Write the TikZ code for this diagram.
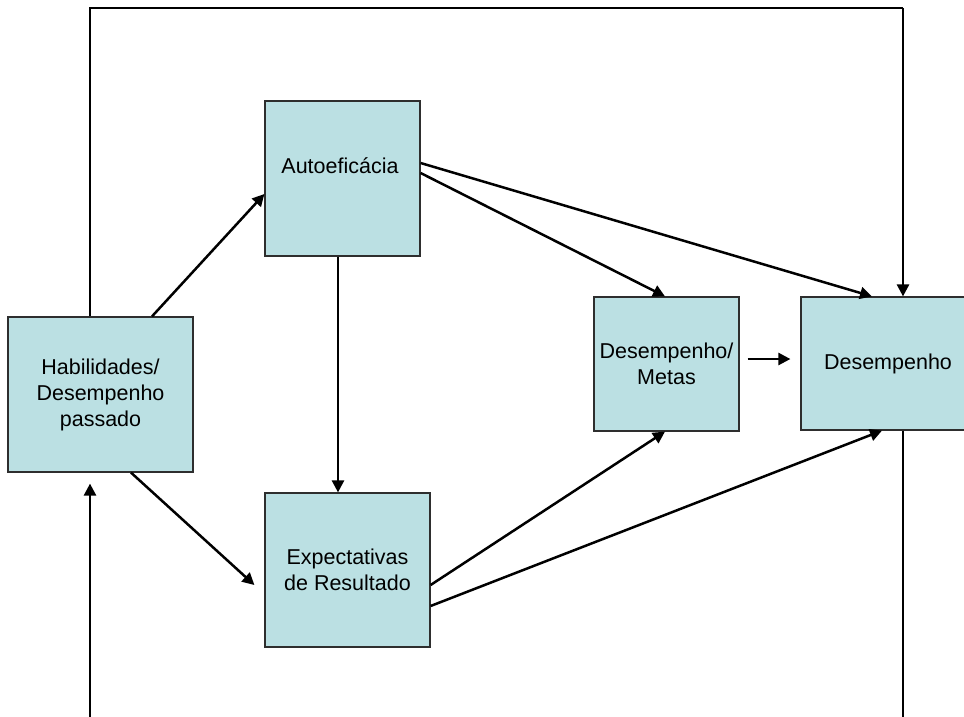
\documentclass[tikz,border=0pt]{standalone}
\usepackage{fontspec}
\setmainfont{Liberation Sans}
\usetikzlibrary{arrows.meta}
\definecolor{boxfill}{HTML}{BBE0E3}
\definecolor{boxline}{HTML}{2E2E2E}
\tikzset{
  box/.style={draw=boxline, line width=1.2pt, fill=boxfill, inner sep=0pt, align=center,
    font=\fontsize{21.5}{26}\selectfont},
  lbl/.style={inner sep=0pt, align=center, font=\fontsize{21.5}{26}\selectfont},
  arr/.style={line width=2.5pt, -{Triangle[length=12pt,width=12pt]}},
  thin/.style={line width=1.1pt},
}
\begin{document}
\begin{tikzpicture}[x=1pt,y=-1pt]
\useasboundingbox (0,0) rectangle (964,717);
\clip (0,0) rectangle (964,717);
\fill[white] (0,0) rectangle (964,717);
% boxes
\node[box, minimum width=185pt, minimum height=155pt] (hab) at (100.5,394.5) {Habilidades/\\Desempenho\\passado};
\node[box, minimum width=155pt, minimum height=155pt] (auto) at (342.5,178.5) {};
\node[lbl] (autotext) at (340,166) {Autoeficácia};
\node[box, minimum width=165pt, minimum height=154pt] (expect) at (347.5,570) {Expectativas\\de Resultado};
\node[box, minimum width=145pt, minimum height=134pt] (metas) at (666.5,364) {Desempenho/\\Metas};
\node[box, minimum width=174pt, minimum height=133pt] (desemp) at (888,363.5) {Desempenho};
% corner coordinates of the feedback loops
\coordinate (tl) at (90,8);
\coordinate (tr) at (903,8);
\coordinate (bl) at (90,717);
\coordinate (br) at (903,717);
% connectors
\draw[arr] ([xshift=51.5pt]hab.north) -- ([yshift=-15.5pt]auto.west);
\draw[arr] ([xshift=30.5pt]hab.south) -- ([xshift=-10pt,yshift=-15pt]expect.west);
\draw[arr] ([xshift=-4.5pt]auto.south) -- ([xshift=-9.5pt]expect.north);
\draw[arr] ([yshift=15.5pt]auto.east) -- ([xshift=-16pt]desemp.north);
\draw[arr] ([yshift=5.5pt]auto.east) -- ([xshift=-1.5pt]metas.north);
\draw[arr] ([yshift=-15pt]expect.east) -- ([xshift=-1.5pt]metas.south);
\draw[arr] ([yshift=-36pt]expect.east) -- ([xshift=-6pt]desemp.south);
\draw[arr] ([xshift=8pt,yshift=5pt]metas.east) -- ([xshift=-10pt,yshift=4.5pt]desemp.west);
% feedback loop over the top
\draw[thin] ([xshift=-10.5pt]hab.north) -- (tl) -- (tr);
\draw[arr] (tr) -- ([xshift=15pt]desemp.north);
% feedback loop at the bottom
\draw[thin] ([xshift=15pt]desemp.south) -- (br);
\draw[arr] (bl) -- ([xshift=-10.5pt,yshift=-11pt]hab.south);
\end{tikzpicture}
\end{document}
